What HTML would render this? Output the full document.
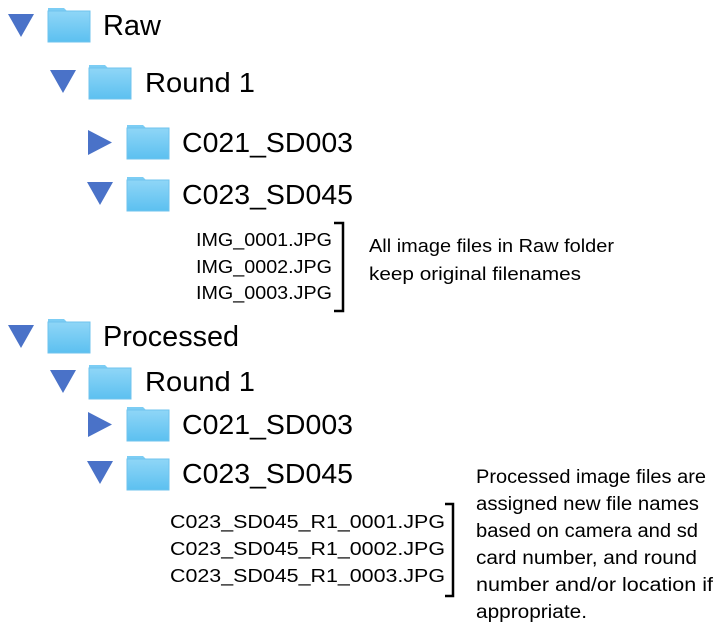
<!DOCTYPE html>
<html><head><meta charset="utf-8"><style>
html,body{margin:0;padding:0;background:#fff;}
svg{display:block;font-family:"Liberation Sans",Arial,sans-serif;}
</style></head><body>
<svg width="723" height="629" viewBox="0 0 723 629" xmlns="http://www.w3.org/2000/svg">
<defs>
<linearGradient id="fg" x1="0" y1="0" x2="0" y2="1">
<stop offset="0" stop-color="#8fd6f7"/><stop offset="1" stop-color="#5cc0f0"/>
</linearGradient>
<g id="fold">
<path d="M0 3 L0 0 L16 0 L19 3 Z" fill="#7ccdf4"/>
<rect x="0" y="3" width="42" height="31" fill="url(#fg)" stroke="#6fc3ee" stroke-width="1"/>
</g>
<path id="td" d="M0 0 L26 0 L13 23 Z" fill="#4a72c8"/>
<path id="tr" d="M0 0 L24 12.5 L0 25 Z" fill="#4a72c8"/>
</defs>

<!-- Raw -->
<use href="#td" x="8" y="14"/>
<use href="#fold" x="48" y="8"/>
<text x="103" y="35" font-size="29" textLength="58" lengthAdjust="spacingAndGlyphs">Raw</text>

<use href="#td" x="50" y="70"/>
<use href="#fold" x="89" y="65"/>
<text x="145" y="92" font-size="28" textLength="110" lengthAdjust="spacingAndGlyphs">Round 1</text>

<use href="#tr" x="88" y="130"/>
<use href="#fold" x="127" y="125"/>
<text x="182" y="152" font-size="28" textLength="171" lengthAdjust="spacingAndGlyphs">C021_SD003</text>

<use href="#td" x="87" y="182"/>
<use href="#fold" x="127" y="177"/>
<text x="182" y="204" font-size="28" textLength="171" lengthAdjust="spacingAndGlyphs">C023_SD045</text>

<g font-size="18">
<text x="196" y="246" textLength="136" lengthAdjust="spacingAndGlyphs">IMG_0001.JPG</text>
<text x="196" y="273" textLength="136" lengthAdjust="spacingAndGlyphs">IMG_0002.JPG</text>
<text x="196" y="299" textLength="136" lengthAdjust="spacingAndGlyphs">IMG_0003.JPG</text>
<text x="369" y="252" textLength="245" lengthAdjust="spacingAndGlyphs">All image files in Raw folder</text>
<text x="369" y="280" textLength="212" lengthAdjust="spacingAndGlyphs">keep original filenames</text>
</g>
<path d="M334 223 L343 223 L343 311 L334 311" fill="none" stroke="#000" stroke-width="2.5"/>

<!-- Processed -->
<use href="#td" x="8" y="325"/>
<use href="#fold" x="48" y="319"/>
<text x="103" y="346" font-size="29" textLength="136" lengthAdjust="spacingAndGlyphs">Processed</text>

<use href="#td" x="50" y="370"/>
<use href="#fold" x="89" y="365"/>
<text x="145" y="391" font-size="28" textLength="110" lengthAdjust="spacingAndGlyphs">Round 1</text>

<use href="#tr" x="88" y="412"/>
<use href="#fold" x="127" y="407"/>
<text x="182" y="434" font-size="28" textLength="171" lengthAdjust="spacingAndGlyphs">C021_SD003</text>

<use href="#td" x="87" y="461"/>
<use href="#fold" x="127" y="456"/>
<text x="182" y="483" font-size="28" textLength="171" lengthAdjust="spacingAndGlyphs">C023_SD045</text>

<g font-size="18">
<text x="170" y="528" textLength="275" lengthAdjust="spacingAndGlyphs">C023_SD045_R1_0001.JPG</text>
<text x="170" y="555" textLength="275" lengthAdjust="spacingAndGlyphs">C023_SD045_R1_0002.JPG</text>
<text x="170" y="582" textLength="275" lengthAdjust="spacingAndGlyphs">C023_SD045_R1_0003.JPG</text>
</g>
<g font-size="19">
<text x="476" y="483" textLength="230" lengthAdjust="spacingAndGlyphs">Processed image files are</text>
<text x="476" y="510" textLength="223" lengthAdjust="spacingAndGlyphs">assigned new file names</text>
<text x="476" y="537" textLength="222" lengthAdjust="spacingAndGlyphs">based on camera and sd</text>
<text x="476" y="564" textLength="221" lengthAdjust="spacingAndGlyphs">card number, and round</text>
<text x="476" y="591" textLength="237" lengthAdjust="spacingAndGlyphs">number and/or location if</text>
<text x="476" y="618" textLength="111" lengthAdjust="spacingAndGlyphs">appropriate.</text>
</g>
<path d="M445 504 L453 504 L453 596 L445 596" fill="none" stroke="#000" stroke-width="2.5"/>
</svg>
</body></html>
